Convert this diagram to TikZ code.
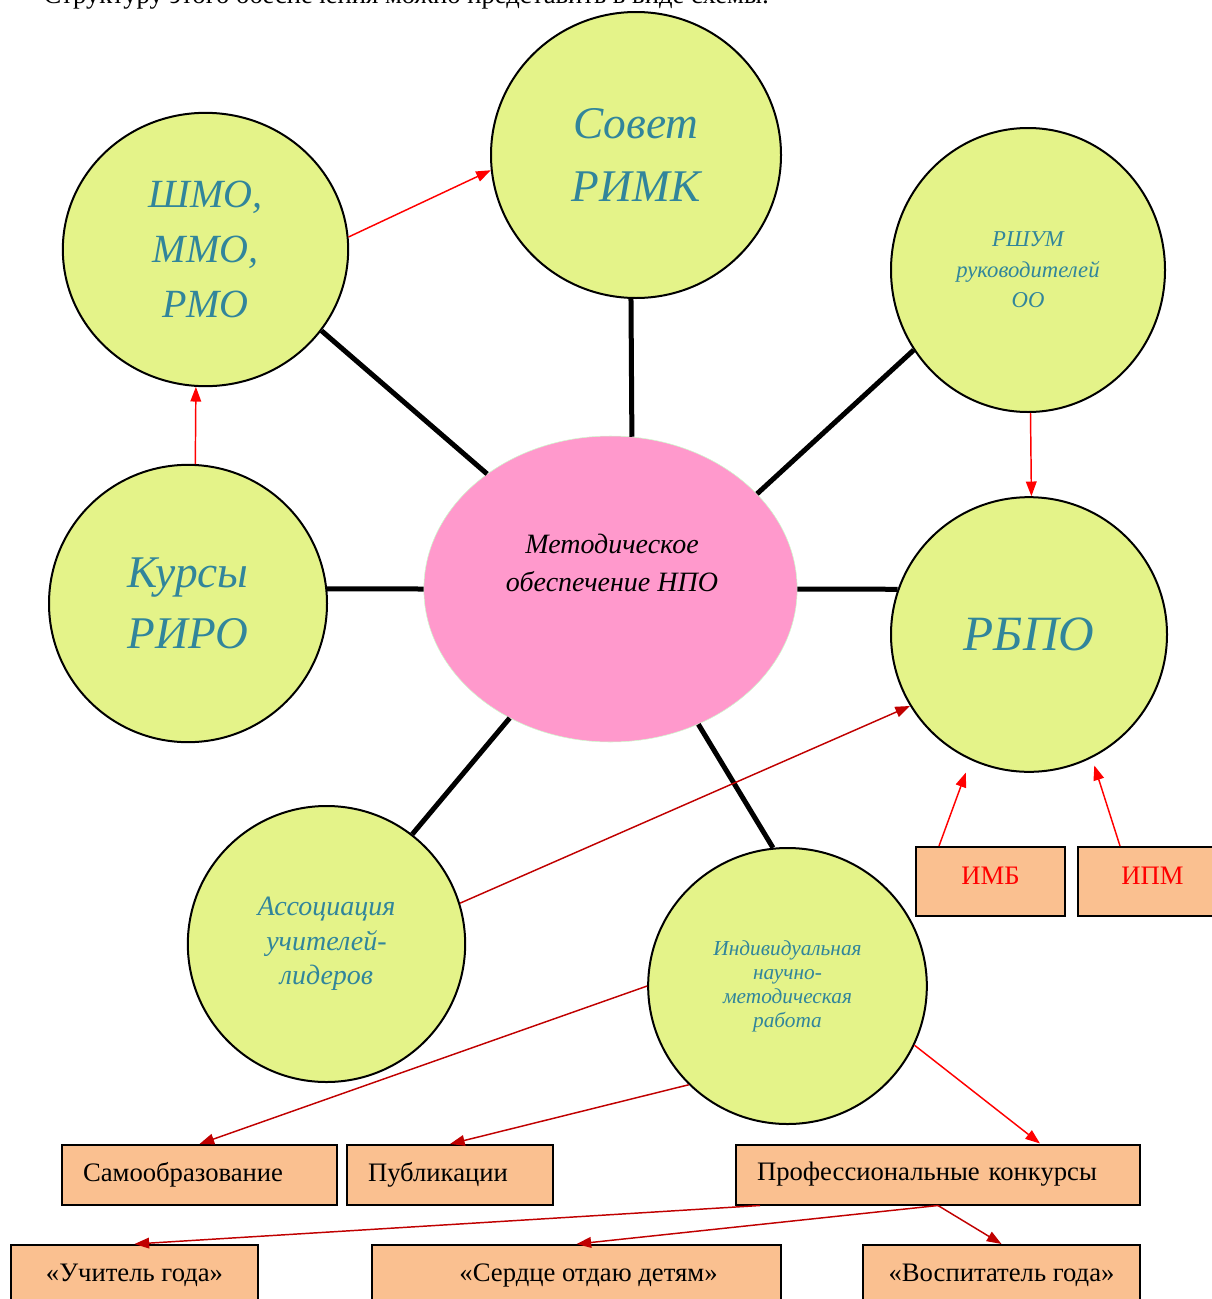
\documentclass[tikz,border=0pt]{standalone}
\usepackage{fontspec}
\setmainfont{Liberation Serif}
\usetikzlibrary{shapes.geometric,arrows.meta,calc}
\definecolor{bubblefill}{RGB}{228,243,137}
\definecolor{bubbletext}{RGB}{49,133,155}
\definecolor{npofill}{RGB}{255,153,204}
\definecolor{npoline}{RGB}{204,255,204}
\definecolor{boxfill}{RGB}{250,192,144}
\definecolor{darkred}{RGB}{192,0,0}
\tikzset{
  bubble/.style 2 args={ellipse, draw, line width=1.5pt, fill=bubblefill, inner sep=0pt,
    minimum width=#1, minimum height=#2, text=bubbletext, align=center},
  spoke/.style={line width=3.75pt},
  redarrow/.style={->, red, line width=1.1pt},
  darkarrow/.style={->, darkred, line width=1.1pt},
  boxnode/.style={draw, line width=1.5pt, fill=boxfill, minimum height=45pt, inner sep=0pt,
    font=\fontsize{20}{24}\selectfont},
  leftbox/.style={boxnode, align=left, inner xsep=15.75pt},
}
\begin{document}
\begin{tikzpicture}[x=0.75pt,y=-0.75pt,>={Triangle[length=11pt,width=8pt]}]
  \useasboundingbox (0,0) rectangle (1212,1299);
  \clip (0,0) rectangle (1212,1299);
  \node[anchor=base west, font=\fontsize{20}{24}\selectfont] (intro) at (39,3) {Структуру этого обеспечения можно представить в виде схемы:};

  \node[ellipse, draw=npoline, fill=npofill, inner sep=0pt, minimum width=280pt, minimum height=229.5pt] (npo) at (610.5,589) {};
  \node[align=center, font=\itshape\fontsize{21}{29}\selectfont] (npotext) at (612,563) {Методическое\\обеспечение НПО};

  \node[bubble={217.5pt}{214.5pt}, font=\itshape\fontsize{34}{47}\selectfont] (sovet) at (636,155) {Совет\\РИМК};
  \node[bubble={214pt}{205pt}, font=\itshape\fontsize{30}{41}\selectfont] (shmo) at (205.5,249.5) {ШМО,\\ММО,\\РМО};
  \node[bubble={205.5pt}{213pt}, font=\itshape\fontsize{17}{23}\selectfont] (rshum) at (1028,270) {РШУМ\\руководителей\\ОО};
  \node[bubble={208.5pt}{208pt}, font=\itshape\fontsize{34}{46}\selectfont] (kursy) at (188,603.5) {Курсы\\РИРО};
  \node[bubble={207pt}{206pt}, font=\itshape\fontsize{37}{44}\selectfont] (rbpo) at (1029,634.5) {РБПО};
  \node[bubble={208pt}{207pt}, font=\itshape\fontsize{21}{26}\selectfont] (assoc) at (326.5,944) {Ассоциация\\учителей-\\лидеров};
  \node[bubble={209pt}{207pt}, font=\itshape\fontsize{16}{18}\selectfont] (indiv) at (787.5,986) {Индивидуальная\\научно-\\методическая\\работа};

  \draw[spoke] (sovet.268) -- (npo.82);   \draw[spoke] (shmo.-35) -- (npo.137.6);
  \draw[spoke] (rshum.215) -- (npo.33);   \draw[spoke] (kursy.6) -- (npo.west);
  \draw[spoke] (npo.east) -- (rbpo.161);  \draw[spoke] (assoc.52) -- (npo.232.5);
  \draw[spoke] (indiv.96) -- (npo.303.3);

  \node[boxnode, minimum width=111.75pt, minimum height=51.75pt, text depth=9pt, text=red] (imb) at (990.5,881.5) {ИМБ};
  \node[boxnode, minimum width=111.75pt, minimum height=51.75pt, text depth=9pt, text=red] (ipm) at (1152.5,881.5) {ИПМ};
  \node[leftbox, text width=174.75pt] (samo) at (199.5,1175) {Самообразование};
  \node[leftbox, text width=123pt] (publ) at (450,1175) {Публикации};
  \node[leftbox, text width=271.5pt] (prof) at (938,1174.5) {Профессиональные конкурсы};
  \node[boxnode, minimum width=185.25pt] (uchitel) at (134.5,1275) {«Учитель года»};
  \node[boxnode, minimum width=306.75pt] (serdce) at (576.5,1275) {\hspace*{18pt}«Сердце отдаю детям»};
  \node[boxnode, minimum width=207.75pt] (vosp) at (1001.5,1275) {«Воспитатель года»};

  \draw[redarrow] (shmo.5) -- (sovet.186);    \draw[redarrow] (kursy.87) -- (shmo.266);
  \draw[redarrow] (rshum.271) -- (rbpo.89);   \draw[darkarrow] (assoc.17) -- (rbpo.211);
  \draw[redarrow, shorten >=10pt] ($(imb.north west)+(24,0)$) -- (rbpo.245);
  \draw[redarrow, shorten >=6pt] ($(ipm.north west)+(43,0)$) -- (rbpo.297);
  \draw[darkarrow] (indiv.west) -- (samo.north);  \draw[darkarrow] (indiv.225) -- (publ.north);
  \draw[redarrow] (indiv.335) -- ($(prof.north)+(102,0)$);
  \draw[darkarrow] ($(prof.south)+(-178,0)$) -- (uchitel.north);
  \draw[darkarrow] (prof.south) -- (serdce.north);  \draw[darkarrow] (prof.south) -- (vosp.north);
\end{tikzpicture}
\end{document}
